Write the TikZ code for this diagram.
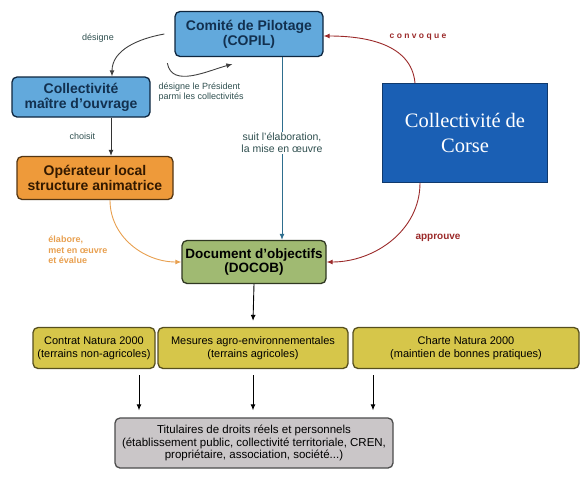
\documentclass[tikz,border=0pt]{standalone}
\usepackage{fontspec}
\setmainfont{Liberation Sans}
\newfontfamily\corsefont{Liberation Serif}
\usetikzlibrary{arrows.meta}
\usetikzlibrary{positioning}
\definecolor{copilblue}{HTML}{62A9DC}
\definecolor{copilink}{HTML}{12304F}
\definecolor{operorange}{HTML}{EE9A3A}
\definecolor{corseblue}{HTML}{1A5FB4}
\definecolor{docobgreen}{HTML}{A0BA72}
\definecolor{mesyellow}{HTML}{D6C64A}
\definecolor{titulgrey}{HTML}{CAC6C8}
\definecolor{suitteal}{HTML}{2E6E8E}
\definecolor{lblslate}{HTML}{2F4F4F}
\definecolor{corsered}{HTML}{9B2A2A}
\definecolor{elaborange}{HTML}{E8A050}
\tikzstyle{boxD} = [draw, line width=1.3pt, rounded corners=5pt, align=center, inner sep=2pt]
\tikzstyle{instD} = [boxD, fill=copilblue, draw=copilink!80!black, text=copilink, font=\fontsize{14}{15}\selectfont\bfseries]
\tikzstyle{mesD} = [boxD, fill=mesyellow, draw=mesyellow!40!black, minimum height=41pt, font=\fontsize{11}{13}\selectfont]
\tikzstyle{lbl} = [font=\fontsize{9}{10.5}\selectfont, align=left, text=lblslate]
\tikzstyle{edgeD} = [-{Latex[length=6pt,width=5pt]}, line width=0.9pt]

\begin{document}
\begin{tikzpicture}[x=1pt, y=-1pt]
\useasboundingbox (0,0) rectangle (580,477);

% Define nodes
\node[instD, minimum width=148pt, minimum height=45pt]                 (copil)   at (249,34)  {Comité de Pilotage\\(COPIL)};
\node[instD, minimum width=138pt, minimum height=40pt]                 (maitre)  at (81,97)   {Collectivité\\maître d'ouvrage};
\node[boxD, fill=operorange, draw=operorange!35!black, text=black!80!orange,
      minimum width=156pt, minimum height=43pt, font=\fontsize{14}{15}\selectfont\bfseries]
                                                                       (oper)    at (95,178)  {Opérateur local\\structure animatrice};
\node[draw=corseblue!60!black, fill=corseblue, text=white, line width=0.8pt,
      minimum width=165pt, minimum height=99pt, align=center,
      font=\corsefont\fontsize{20.5}{25}\selectfont]                   (corse)   at (465,133) {Collectivité de\\Corse};
\node[boxD, fill=docobgreen, draw=docobgreen!30!black,
      minimum width=144pt, minimum height=43pt, font=\fontsize{13.5}{14.5}\selectfont\bfseries]
                                                                       (docob)   at (254,262) {Document d'objectifs\\(DOCOB)};
\node[mesD, minimum width=122pt]                                       (contrat) at (94,348)  {Contrat Natura 2000\\(terrains non-agricoles)};
\node[mesD, minimum width=190pt]                                       (mesures) at (253,348) {Mesures agro-environnementales\\(terrains agricoles)};
\node[mesD, minimum width=226pt]                                       (charte)  at (466,348) {Charte Natura 2000\\(maintien de bonnes pratiques)};
\node[boxD, fill=titulgrey, draw=black!70, minimum width=278pt, minimum height=50pt,
      font=\fontsize{11.5}{12.5}\selectfont]                           (titul)   at (254,443) {Titulaires de droits réels et personnels\\(établissement public, collectivité territoriale, CREN,\\propriétaire, association, société...)};

\coordinate (desA)  at ([xshift=-10pt]copil.west);
\coordinate (loopA) at ([shift={(-7,6)}]copil.south west);
\coordinate (loopB) at ([shift={(58,7)}]copil.south west);

% Edges
\draw[edgeD, black!75] (desA) to[out=190, in=90] ([xshift=31pt]maitre.north);
\node[lbl] (deslbl) at (98,38) {désigne};
\draw[edgeD, black!75] (loopA) to[out=-80, in=195] (loopB);
\node[lbl, anchor=north west] (preslbl) at (155,79) {désigne le Président\\parmi les collectivités};
\draw[edgeD, suitteal] ([xshift=33pt]copil.south) -- ([xshift=28pt]docob.north)
  node[lbl, pos=0.47, fill=white, align=center, inner sep=1pt, font=\fontsize{10.5}{12}\selectfont] {suit l'élaboration,\\la mise en œuvre};
\draw[edgeD, black!80] ([xshift=30pt]maitre.south) -- ([xshift=16pt]oper.north)
  node[lbl, midway, left=12pt] {choisit};
\draw[edgeD, elaborange] ([xshift=15pt]oper.south) to[out=-90, in=180] (docob.west);
\node[lbl, text=elaborange, font=\fontsize{9}{10.5}\selectfont\bfseries] (elablbl) at (78,250) {élabore,\\met en œuvre\\et évalue};
\draw[edgeD, corsered] ([xshift=-50pt]corse.north) to[out=95, in=0] ([yshift=-2pt]copil.east);
\node[lbl, text=corsered, font=\fontsize{8.5}{10}\selectfont\bfseries] (convlbl) at (418,37) {c o n v o q u e};
\draw[edgeD, corsered] ([xshift=-45pt]corse.south) to[out=-90, in=0] (docob.east);
\node[lbl, text=corsered, font=\fontsize{10}{11}\selectfont\bfseries] (approlbl) at (438,238) {approuve};
\draw[edgeD, black] (docob.south) -- ([yshift=6pt]mesures.north);
\draw[edgeD, black, shorten <=6pt, shorten >=7pt] ([xshift=45pt]contrat.south) -- ([xshift=45pt]contrat.south |- titul.north);
\draw[edgeD, black, shorten <=6pt, shorten >=7pt] (mesures.south) -- (mesures.south |- titul.north);
\draw[edgeD, black, shorten <=6pt, shorten >=7pt] ([xshift=-93pt]charte.south) -- ([xshift=-93pt]charte.south |- titul.north);

\end{tikzpicture}
\end{document}
